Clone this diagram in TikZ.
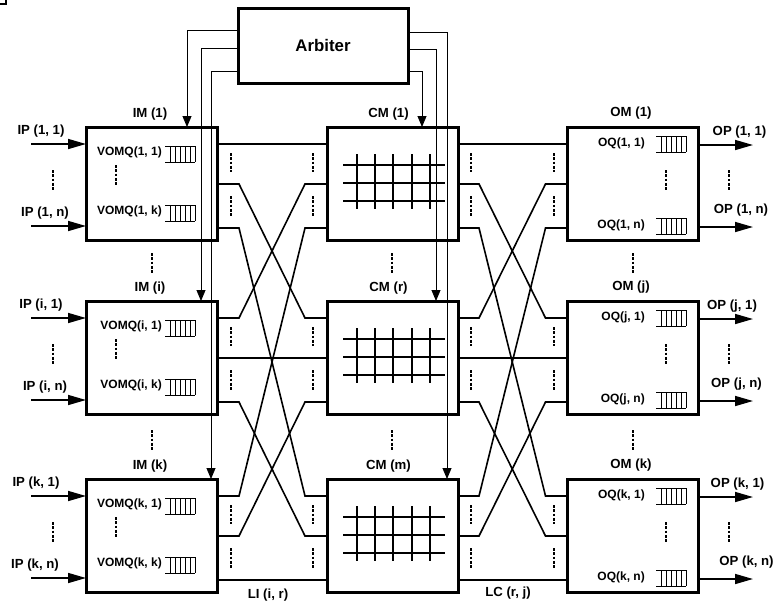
\documentclass[tikz,border=0pt]{standalone}
\usepackage{fontspec}
\setmainfont{Liberation Sans}
\usetikzlibrary{arrows.meta,calc}
\begin{document}
\begin{tikzpicture}[x=1pt,y=-1pt,
  box/.style={draw, line width=3pt, minimum width=131pt, minimum height=113pt, inner sep=0pt, outer sep=0pt},
  arbbox/.style={draw, line width=3pt, minimum width=170pt, minimum height=75pt, inner sep=0pt, outer sep=0pt,
    font=\fontsize{16.8}{19}\selectfont\bfseries},
  lbl/.style={font=\fontsize{13.2}{15}\selectfont\bfseries, inner sep=0pt},
  qlbl/.style={font=\fontsize{12}{14}\selectfont\bfseries, inner sep=0pt, anchor=east},
  link/.style={line width=1.6pt, line join=miter},
  ctl/.style={line width=0.9pt, -{Triangle[length=11pt,width=9pt]}},
  port/.style={line width=1.6pt, -{Triangle[length=18pt,width=10pt]}},
  vd/.style={line width=2.8pt, dash pattern=on 2.6pt off 1.7pt},
  grd/.style={line width=2pt},
  fifo/.pic={
    \draw[line width=0.8pt] (0,-8) -- (30,-8) (0,8) -- (30,8);
    \foreach \i in {5,10,...,30} \draw[line width=0.8pt] (\i,-8) -- (\i,8);
  }]
\useasboundingbox (0,0) rectangle (776,603);

% small corner mark
\draw[line width=1.2pt] (0,4) -- (6,4) -- (6,0);

% arbiter
\node[arbbox] (arb) at (323,45.5) {Arbiter};

% one row of input, centre and output modules per entry
\foreach \n/\T/\lia/\lib/\lic/\lxa/\lxb/\oxa/\oxb in
  {1/127/1/1/1/41/45/739.5/741, 2/301/i/r/j/41/45/732/736.5, 3/479/k/m/k/36/35/737.5/746.5} {
  % input module
  \node[box] (im\n) at (151.5,{\T+56.5}) {};
  \node[lbl] (imlbl\n) at (150,{\T-13}) {IM (\lia)};
  \coordinate (ipa\n) at (31,{\T+17});
  \coordinate (ipb\n) at (31,{\T+99});
  \draw[port] (ipa\n) -- (ipa\n -| im\n.west);
  \draw[port] (ipb\n) -- (ipb\n -| im\n.west);
  \node[lbl] (iplbla\n) at (\lxa,{\T+4}) {IP (\lia, 1)};
  \node[lbl] (iplblb\n) at (\lxb,{\T+86}) {IP (\lia, n)};
  \draw[vd] (53,{\T+43}) -- (53,{\T+63});
  \node[qlbl] (vqa\n) at (162,{\T+25}) {VOMQ(\lia, 1)};
  \node[qlbl] (vqb\n) at (162,{\T+84}) {VOMQ(\lia, k)};
  \pic at (165,{\T+27}) {fifo};
  \pic at (165,{\T+86}) {fifo};
  \draw[vd] (116,{\T+38}) -- (116,{\T+59});

  % centre module with its crossbar
  \node[box] (cm\n) at (392.5,{\T+56.5}) {};
  \node[lbl] (cmlbl\n) at (388.5,{\T-13}) {CM (\lib)};
  \foreach \h in {38,56,74}
    \draw[grd] ($(cm\n.north west)+(16,\h)$) -- ++(102,0);
  \foreach \v in {30,48,66,85,103}
    \draw[grd] ($(cm\n.north west)+(\v,27)$) -- ++(0,55);

  % output module
  \node[box] (om\n) at (633,{\T+56.5}) {};
  \node[lbl] (omlbl\n) at (631,{\T-13.5}) {OM (\lic)};
  \node[qlbl] (oqa\n) at (645,{\T+16}) {OQ(\lic, 1)};
  \node[qlbl] (oqb\n) at (645,{\T+98}) {OQ(\lic, n)};
  \pic at (656,{\T+17}) {fifo};
  \pic at (656,{\T+99}) {fifo};
  \draw[vd] (666,{\T+43}) -- (666,{\T+63});
  \coordinate (opa\n) at (753,{\T+18});
  \coordinate (opb\n) at (753,{\T+100});
  \draw[port] (opa\n -| om\n.east) -- (opa\n);
  \draw[port] (opb\n -| om\n.east) -- (opb\n);
  \node[lbl] (oplbla\n) at (\oxa,{\T+5}) {OP (\lic, 1)};
  \node[lbl] (oplblb\n) at (\oxb,{\T+83}) {OP (\lic, n)};
  \draw[vd] (729,{\T+43}) -- (729,{\T+63});

  % dots between the link groups
  \foreach \dx in {231,313,471,554} {
    \draw[vd] (\dx,{\T+26}) -- (\dx,{\T+45});
    \draw[vd] (\dx,{\T+69}) -- (\dx,{\T+89});
  }
}

% dots between module rows
\foreach \mx in {152,392,633} {
  \draw[vd] (\mx,253) -- (\mx,273);
  \draw[vd] (\mx,430) -- (\mx,451);
}

% interstage links: module n, port p  ->  module p, port n
\foreach \n/\on in {1/17,2/57,3/101} {
  \foreach \p/\op in {1/17,2/57,3/101} {
    \draw[link] ($(im\n.north east)+(0,\op)$) -- ++(22,0)
      -- ($(cm\p.north west)+(-22,\on)$) -- ++(22,0);
    \draw[link] ($(cm\n.north east)+(0,\op)$) -- ++(21,0)
      -- ($(om\p.north west)+(-22,\on)$) -- ++(22,0);
  }
}
\node[lbl] (li) at (268,595) {LI (i, r)};
\node[lbl] (lc) at (508,593) {LC (r, j)};

% arbiter control lines
\draw[ctl] ($(arb.north west)+(0,22)$) -| ($(im1.north west)+(101,0)$);
\draw[ctl] ($(arb.north west)+(0,40)$) -| ($(im2.north west)+(115,0)$);
\draw[ctl] ($(arb.north west)+(0,63)$) -| ($(im3.north west)+(125,0)$);
\draw[ctl] ($(arb.north east)+(0,63)$) -| ($(cm1.north west)+(95,0)$);
\draw[ctl] ($(arb.north east)+(0,41)$) -| ($(cm2.north west)+(109,0)$);
\draw[ctl] ($(arb.north east)+(0,24)$) -| ($(cm3.north west)+(120,0)$);
\end{tikzpicture}
\end{document}
